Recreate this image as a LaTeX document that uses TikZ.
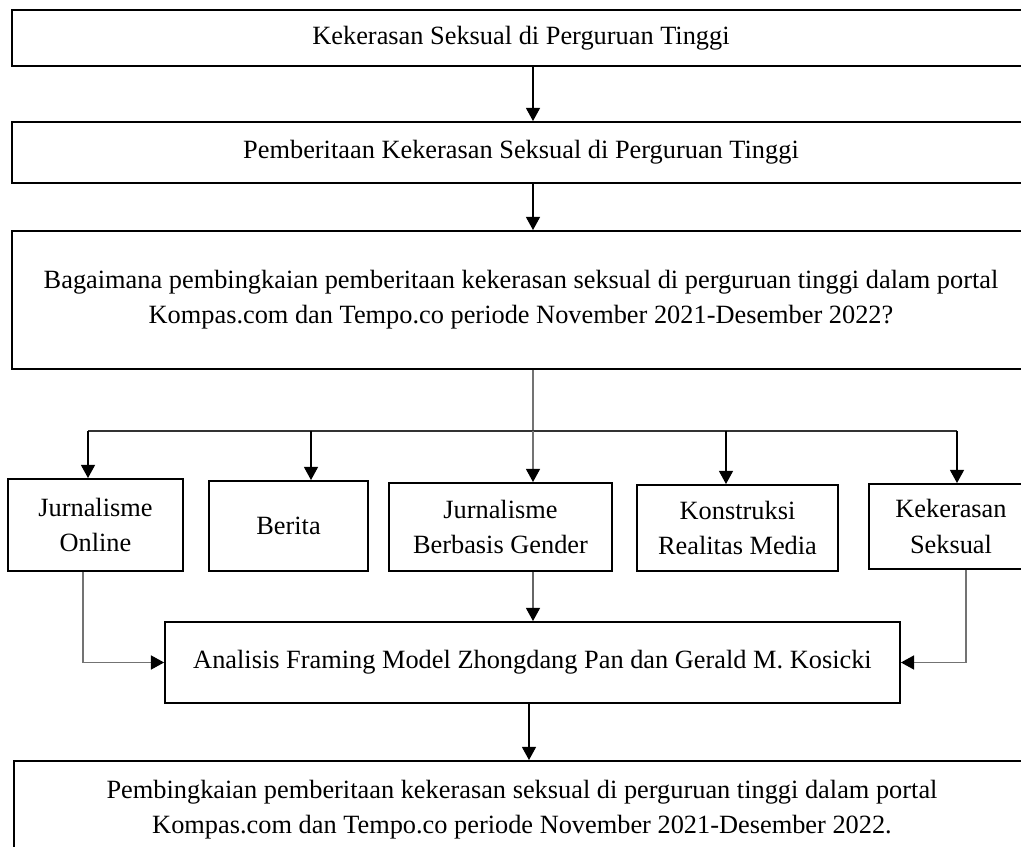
\documentclass[tikz,border=0pt]{standalone}
\usepackage{fontspec}
\setmainfont{Liberation Serif}
\usetikzlibrary{arrows.meta}

\begin{document}
\begin{tikzpicture}[x = 0.02cm, y = -0.02cm,
  kotak/.style = {draw, line width = 1.1pt, inner sep = 0pt, align = center,
    font = \fontsize{15}{20}\selectfont},
  panah/.style = {-{Triangle[length = 7.5pt, width = 8pt, color = black]}, line width = 0.8pt},
  garis/.style = {line width = 0.8pt, color = black!55}]
\clip (0, 0) rectangle (1021, 847);
%\draw[very thin, color = gray](0, 0) grid[step = 50] (1021, 847);
\node (topik) [kotak, minimum width = 20.36cm, minimum height = 1.12cm] at (521, 38)
  {Kekerasan Seksual di Perguruan Tinggi};
\node (berita) [kotak, minimum width = 20.36cm, minimum height = 1.22cm] at (521, 152.5)
  {Pemberitaan Kekerasan Seksual di Perguruan Tinggi};
\node (masalah) [kotak, minimum width = 20.36cm, minimum height = 2.76cm] at (521, 300)
  {Bagaimana pembingkaian pemberitaan kekerasan seksual di perguruan tinggi dalam portal\\
   Kompas.com dan Tempo.co periode November 2021-Desember 2022?};
\node (jo) [kotak, minimum width = 3.5cm, minimum height = 1.84cm] at (95.5, 525)
  {Jurnalisme\\ Online};
\node (br) [kotak, minimum width = 3.18cm, minimum height = 1.8cm] at (288.5, 526)
  {Berita};
\node (jg) [kotak, minimum width = 4.46cm, minimum height = 1.76cm] at (500.5, 527)
  {Jurnalisme\\ Berbasis Gender};
\node (kr) [kotak, minimum width = 4.02cm, minimum height = 1.72cm] at (737.5, 528)
  {Konstruksi\\ Realitas Media};
\node (ks) [kotak, minimum width = 3.28cm, minimum height = 1.7cm] at (951, 526.5)
  {Kekerasan\\ Seksual};
\node (analisis) [kotak, minimum width = 14.7cm, minimum height = 1.62cm] at (532.5, 662.5)
  {Analisis Framing Model Zhongdang Pan dan Gerald M. Kosicki};
\node (hasil) [kotak, minimum width = 20.32cm, minimum height = 1.94cm] at (522, 809.5)
  {Pembingkaian pemberitaan kekerasan seksual di perguruan tinggi dalam portal\\
   Kompas.com dan Tempo.co periode November 2021-Desember 2022.};
% titik bantu
\coordinate (tengah) at (533, 0);
\coordinate (turun) at (529, 0);
\coordinate (kiri) at (83, 0);
\coordinate (kanan) at (966, 0);
\coordinate (cabang) at (533, 431);
\coordinate (c1) at (88, 431);
\coordinate (c2) at (311, 431);
\coordinate (c4) at (726, 431);
\coordinate (c5) at (957, 431);
\draw[panah] (topik.south -| tengah) -- (berita.north -| tengah);
\draw[panah] (berita.south -| tengah) -- (masalah.north -| tengah);
\draw[garis] (masalah.south -| tengah) -- (cabang);
\draw[line width = 0.8pt, color = black!80] (c1) -- (c5);
\draw[panah] (c1) -- (c1 |- jo.north);
\draw[panah] (c2) -- (c2 |- br.north);
\draw[panah, color = black!55] (cabang) -- (cabang |- jg.north);
\draw[panah] (c4) -- (c4 |- kr.north);
\draw[panah] (c5) -- (c5 |- ks.north);
\draw[panah, color = black!60] (jg.south -| tengah) -- (analisis.north -| tengah);
\draw[garis, panah] (jo.south -| kiri) |- (analisis.west);
\draw[garis, panah] (ks.south -| kanan) |- (analisis.east);
\draw[panah] (analisis.south -| turun) -- (hasil.north -| turun);
\end{tikzpicture}
\end{document}
